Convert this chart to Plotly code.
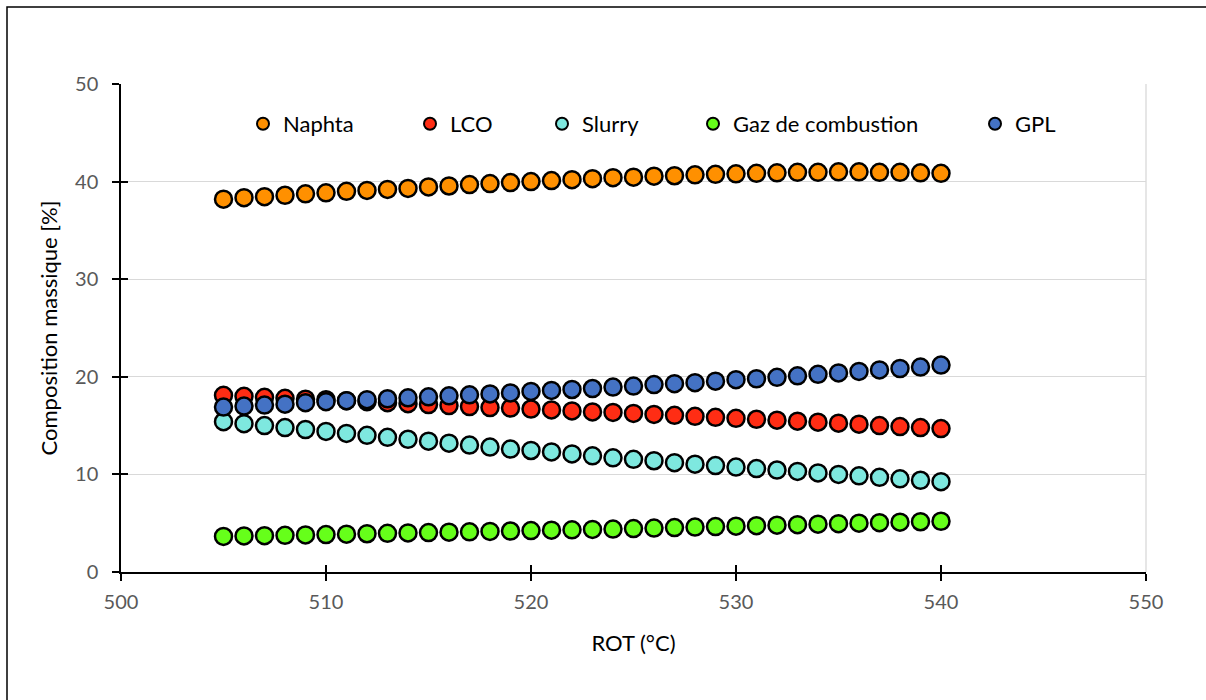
import plotly.graph_objects as go

rot = list(range(505, 541))

naphta = [38.2, 38.35, 38.45, 38.6, 38.75, 38.85, 39.0, 39.1, 39.2, 39.3,
          39.45, 39.55, 39.7, 39.8, 39.9, 40.0, 40.1, 40.2, 40.3, 40.4,
          40.45, 40.55, 40.6, 40.7, 40.75, 40.8, 40.85, 40.9, 40.95, 40.95,
          41.0, 41.0, 40.95, 40.95, 40.9, 40.85]
lco = [18.1, 18.0, 17.9, 17.8, 17.7, 17.65, 17.55, 17.45, 17.35, 17.25,
       17.15, 17.05, 16.95, 16.85, 16.8, 16.7, 16.6, 16.5, 16.4, 16.35,
       16.25, 16.15, 16.05, 15.95, 15.85, 15.75, 15.65, 15.55, 15.45, 15.35,
       15.25, 15.15, 15.0, 14.9, 14.8, 14.7]
slurry = [15.4, 15.2, 15.0, 14.8, 14.6, 14.4, 14.2, 14.0, 13.8, 13.6,
          13.4, 13.2, 13.0, 12.8, 12.6, 12.45, 12.3, 12.1, 11.9, 11.7,
          11.55, 11.4, 11.2, 11.05, 10.9, 10.75, 10.6, 10.45, 10.3, 10.15,
          10.0, 9.85, 9.7, 9.55, 9.4, 9.25]
gaz = [3.65, 3.7, 3.72, 3.76, 3.8, 3.84, 3.88, 3.92, 3.96, 4.0,
       4.04, 4.08, 4.12, 4.16, 4.2, 4.24, 4.28, 4.32, 4.36, 4.4,
       4.45, 4.5, 4.55, 4.6, 4.65, 4.7, 4.75, 4.8, 4.85, 4.9,
       4.95, 5.0, 5.05, 5.1, 5.15, 5.2]
gpl = [16.9, 17.0, 17.1, 17.2, 17.35, 17.45, 17.55, 17.65, 17.75, 17.85,
       17.95, 18.05, 18.15, 18.25, 18.35, 18.5, 18.6, 18.7, 18.8, 18.95,
       19.05, 19.2, 19.3, 19.4, 19.55, 19.7, 19.8, 19.95, 20.1, 20.25,
       20.4, 20.55, 20.7, 20.85, 21.0, 21.2]

series = [
    ("Naphta", naphta, "#FF9000", "legend"),
    ("LCO", lco, "#FF2D14", "legend2"),
    ("Slurry", slurry, "#7EE8DF", "legend3"),
    ("Gaz de combustion", gaz, "#66FF1A", "legend4"),
    ("GPL", gpl, "#4472C4", "legend5"),
]

FONT = "Lato"
fig = go.Figure()
for name, vals, col, lg in series:
    fig.add_trace(go.Scatter(
        x=rot, y=vals, mode="markers", name=name, legend=lg,
        marker=dict(size=17, color=col, line=dict(color="black", width=2.5)),
    ))

# invisible trace on the overlay axes so crossing ticks render
fig.add_trace(go.Scatter(x=[500], y=[0], xaxis="x2", yaxis="y2", mode="markers",
                         marker=dict(opacity=0), showlegend=False, hoverinfo="skip"))

W, H = 1206, 700
L, R, T, B = 121, 60, 84, 128
pw, ph = W - L - R, H - T - B

def px2x(px):
    return (px - L) / pw

def px2y(py):
    return (H - B - py) / ph

legend_marker_px = [263, 430, 562, 713, 995]
legend_common = dict(orientation="h", yanchor="middle", xanchor="left",
                     bgcolor="rgba(0,0,0,0)", font=dict(family=FONT, size=22, color="black"),
                     itemwidth=30, tracegroupgap=0, itemsizing="constant")
legends = {}
for i, mx in enumerate(legend_marker_px):
    key = "legend" if i == 0 else f"legend{i+1}"
    legends[key] = dict(x=px2x(mx - 20), y=px2y(124), **legend_common)

fig.update_layout(
    width=W, height=H,
    margin=dict(l=L, r=R, t=T, b=B, autoexpand=False),
    plot_bgcolor="white", paper_bgcolor="white",
    font=dict(family=FONT, size=20, color="#595959"),
    showlegend=True,
    xaxis=dict(range=[500, 550], dtick=10, tick0=500, showgrid=False,
               showline=True, linecolor="black", linewidth=1.5,
               ticks="outside", ticklen=7, tickwidth=2, tickcolor="black",
               tickfont=dict(family=FONT, size=20, color="#595959"),
               ticklabelstandoff=4, zeroline=False,
               title=dict(text="ROT (°C)", font=dict(family=FONT, size=22, color="black"), standoff=24)),
    yaxis=dict(range=[0, 50], dtick=10, tick0=0, showgrid=True, gridcolor="#D9D9D9", gridwidth=1.3,
               showline=True, linecolor="black", linewidth=1.5,
               ticks="outside", ticklen=7, tickwidth=2, tickcolor="black",
               tickfont=dict(family=FONT, size=20, color="#595959"),
               ticklabelstandoff=10, zeroline=False,
               title=dict(text="Composition massique [%]", font=dict(family=FONT, size=22, color="black"), standoff=11)),
    xaxis2=dict(range=[500, 550], dtick=10, tick0=500, overlaying="x", showgrid=False,
                showline=False, ticks="inside", ticklen=7, tickwidth=2, tickcolor="black",
                showticklabels=False, zeroline=False),
    yaxis2=dict(range=[0, 50], dtick=10, tick0=0, overlaying="y", showgrid=False,
                showline=False, ticks="inside", ticklen=7, tickwidth=2, tickcolor="black",
                showticklabels=False, zeroline=False),
    shapes=[
        dict(type="line", xref="paper", yref="paper", x0=1, x1=1, y0=0, y1=1,
             line=dict(color="#D9D9D9", width=1.3), layer="below"),
        dict(type="rect", xref="paper", yref="paper",
             x0=px2x(7), x1=px2x(1215), y0=px2y(710), y1=px2y(7),
             line=dict(color="black", width=1.5), layer="below"),
    ],
    **legends,
)

fig.write_html("out.html", config={"displayModeBar": False},
               post_script="document.body.style.margin='0';")
